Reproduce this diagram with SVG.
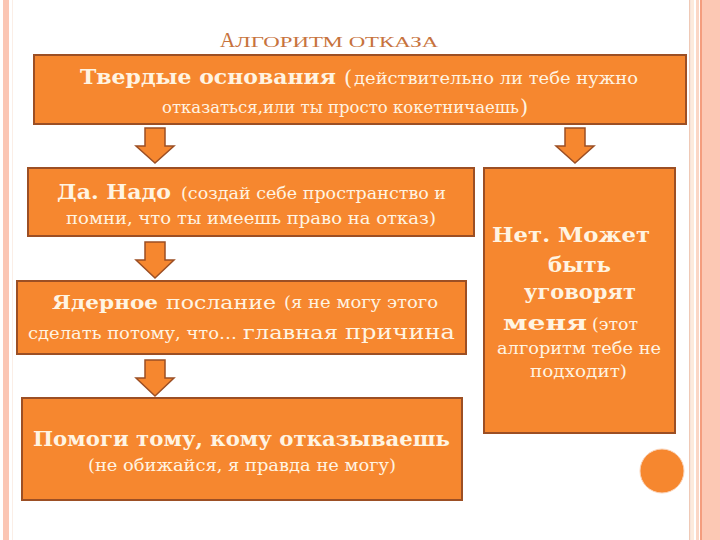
<svg xmlns="http://www.w3.org/2000/svg" width="720" height="540" viewBox="0 0 720 540">
<style>
.box{fill:#f6872f;stroke:#9c4f24;stroke-width:2}
.arr{fill:#f6872f;stroke:#9c4f24;stroke-width:1.5;stroke-linejoin:miter}
.t{font-family:"DejaVu Serif","Liberation Serif",serif;fill:#fff4e2}
.b{font-weight:bold}
.s15{font-size:16.5px}
.s18{font-size:19px}
.s19{font-size:19.5px}
.s20{font-size:21px}
.title{font-family:"Liberation Serif","DejaVu Serif",serif;fill:#c7733d}
</style>
<rect x="0" y="0" width="720" height="540" fill="#ffffff"/>
<rect x="3" y="0" width="6" height="540" fill="#fbc6b4"/>
<rect x="12" y="0" width="1" height="540" fill="#fbeee6"/>
<rect x="689" y="0" width="1.5" height="540" fill="#efc9b6"/>
<rect x="691" y="0" width="3" height="540" fill="#fdeadc"/>
<rect x="696" y="0" width="3" height="540" fill="#fbd7c6"/>
<rect x="700" y="0" width="2" height="540" fill="#f49d7e"/>
<rect x="702" y="0" width="18" height="540" fill="#fcc8b4"/>

<g id="title">
<text class="title" y="47"><tspan x="220" font-size="21">А</tspan><tspan font-size="15.5" textLength="203" lengthAdjust="spacingAndGlyphs">ЛГОРИТМ ОТКАЗА</tspan></text>
</g>

<g id="connectors">
<polygon class="arr" points="145,128 165,128 165,146 174,146 155,163 136,146 145,146"/>
<polygon class="arr" points="565,128 585,128 585,146 594,146 575,163 556,146 565,146"/>
<polygon class="arr" points="145,242 165,242 165,260 174,260 155,278 136,260 145,260"/>
<polygon class="arr" points="145,360 165,360 165,378 174,378 155,396 136,378 145,378"/>
</g>

<g id="node-top">
<rect class="box" x="34" y="55" width="652" height="69"/>
<text class="t b s19" x="80" y="84" textLength="256" lengthAdjust="spacingAndGlyphs">Твердые  основания</text>
<text class="t s20" x="344" y="85">(</text>
<text class="t s15" x="354" y="84" textLength="284" lengthAdjust="spacingAndGlyphs">действительно ли тебе нужно</text>
<text class="t s15" x="162" y="113" textLength="357" lengthAdjust="spacingAndGlyphs">отказаться,или ты просто кокетничаешь</text>
<text class="t s20" x="520" y="114">)</text>
</g>

<g id="node-yes">
<rect class="box" x="28" y="168" width="446" height="68"/>
<text class="t b s19" x="57" y="199" textLength="114" lengthAdjust="spacingAndGlyphs">Да. Надо</text>
<text class="t s15" x="181" y="199" textLength="265" lengthAdjust="spacingAndGlyphs">(создай себе пространство и</text>
<text class="t s15" x="66" y="224" textLength="370" lengthAdjust="spacingAndGlyphs">помни, что ты имеешь право на отказ)</text>
</g>

<g id="node-no">
<rect class="box" x="484" y="168" width="191" height="265"/>
<text class="t b s19" x="492" y="242" textLength="158" lengthAdjust="spacingAndGlyphs">Нет. Может</text>
<text class="t b s19" x="548" y="272" textLength="63" lengthAdjust="spacingAndGlyphs">быть</text>
<text class="t b s19" x="524" y="299" textLength="112" lengthAdjust="spacingAndGlyphs">уговорят</text>
<text class="t b s19" x="503" y="330" textLength="84" lengthAdjust="spacingAndGlyphs">меня</text>
<text class="t s15" x="592" y="330" textLength="46" lengthAdjust="spacingAndGlyphs">(этот</text>
<text class="t s15" x="497" y="354" textLength="164" lengthAdjust="spacingAndGlyphs">алгоритм тебе не</text>
<text class="t s15" x="530" y="377" textLength="97" lengthAdjust="spacingAndGlyphs">подходит)</text>
</g>

<g id="node-nuclear">
<rect class="box" x="17" y="281" width="449" height="73"/>
<text class="t b s18" x="52" y="309" textLength="106" lengthAdjust="spacingAndGlyphs">Ядерное</text>
<text class="t s18" x="166" y="309" textLength="110" lengthAdjust="spacingAndGlyphs">послание</text>
<text class="t s15" x="284" y="308" textLength="154" lengthAdjust="spacingAndGlyphs">(я не могу этого</text>
<text class="t s15" x="28" y="339" textLength="209" lengthAdjust="spacingAndGlyphs">сделать потому, что…</text>
<text class="t s18" x="243" y="339" textLength="95" lengthAdjust="spacingAndGlyphs">главная</text>
<text class="t s20" x="345" y="339" textLength="110" lengthAdjust="spacingAndGlyphs">причина</text>
</g>

<g id="node-help">
<rect class="box" x="22" y="398" width="440" height="102"/>
<text class="t b s19" x="33" y="446" textLength="417" lengthAdjust="spacingAndGlyphs">Помоги тому, кому отказываешь</text>
<text class="t s15" x="88" y="471" textLength="308" lengthAdjust="spacingAndGlyphs">(не обижайся, я правда не могу)</text>
</g>

<g id="circle">
<ellipse cx="662" cy="471" rx="22" ry="22" fill="#f6872f" stroke="#fbd3b8" stroke-width="1"/>
</g>
</svg>
